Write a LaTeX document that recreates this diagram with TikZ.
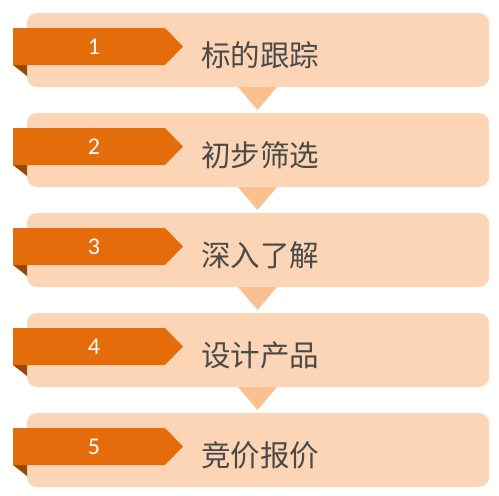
\documentclass[tikz,border=0pt]{standalone}
\usepackage{fontspec}
\setmainfont{Carlito}
\newfontfamily\cjk{Noto Sans CJK SC}
\definecolor{boxfill}{HTML}{FBD5B5}
\definecolor{trifill}{HTML}{FAC090}
\definecolor{ribbon}{HTML}{E46C0A}
\definecolor{folddark}{HTML}{974806}
\definecolor{txtgray}{HTML}{4A4A4A}
\begin{document}
\begin{tikzpicture}[x=1pt,y=-1pt,
  stagebox/.style={fill=boxfill,rounded corners=10pt,draw=none},
  downtri/.style={fill=trifill,draw=none},
  ribbonshape/.style={fill=ribbon,draw=none},
  foldshape/.style={fill=folddark,draw=none},
  numlabel/.style={text=white,font=\fontsize{24}{24}\selectfont},
  steplabel/.style={text=txtgray,font=\cjk\fontsize{29.5}{29.5}\selectfont,anchor=west,inner sep=0pt}]
\useasboundingbox (0,0) rectangle (499,496);
\foreach \i/\t in {0/标的跟踪,1/初步筛选,2/深入了解,3/设计产品,4/竞价报价}{
  \pgfmathsetmacro{\oy}{100*\i}
  \begin{scope}[yshift={-\oy pt}]
    \ifnum\i<4
      \fill[downtri] (232,80) -- (283,80) -- (257.5,110) -- cycle;
    \fi
    \fill[stagebox] (27,13) rectangle (489,87);
    \fill[foldshape] (13,65) -- (27,65) -- (27,76) -- cycle;
    \fill[ribbonshape] (13,28) -- (165,28) -- (183,46.5) -- (165,65) -- (13,65) -- cycle;
    \node[numlabel] (n\i) at (94,46.5) {\the\numexpr\i+1\relax};
    \node[steplabel] (t\i) at (201,55.5) {\t};
  \end{scope}
}
\end{tikzpicture}
\end{document}
